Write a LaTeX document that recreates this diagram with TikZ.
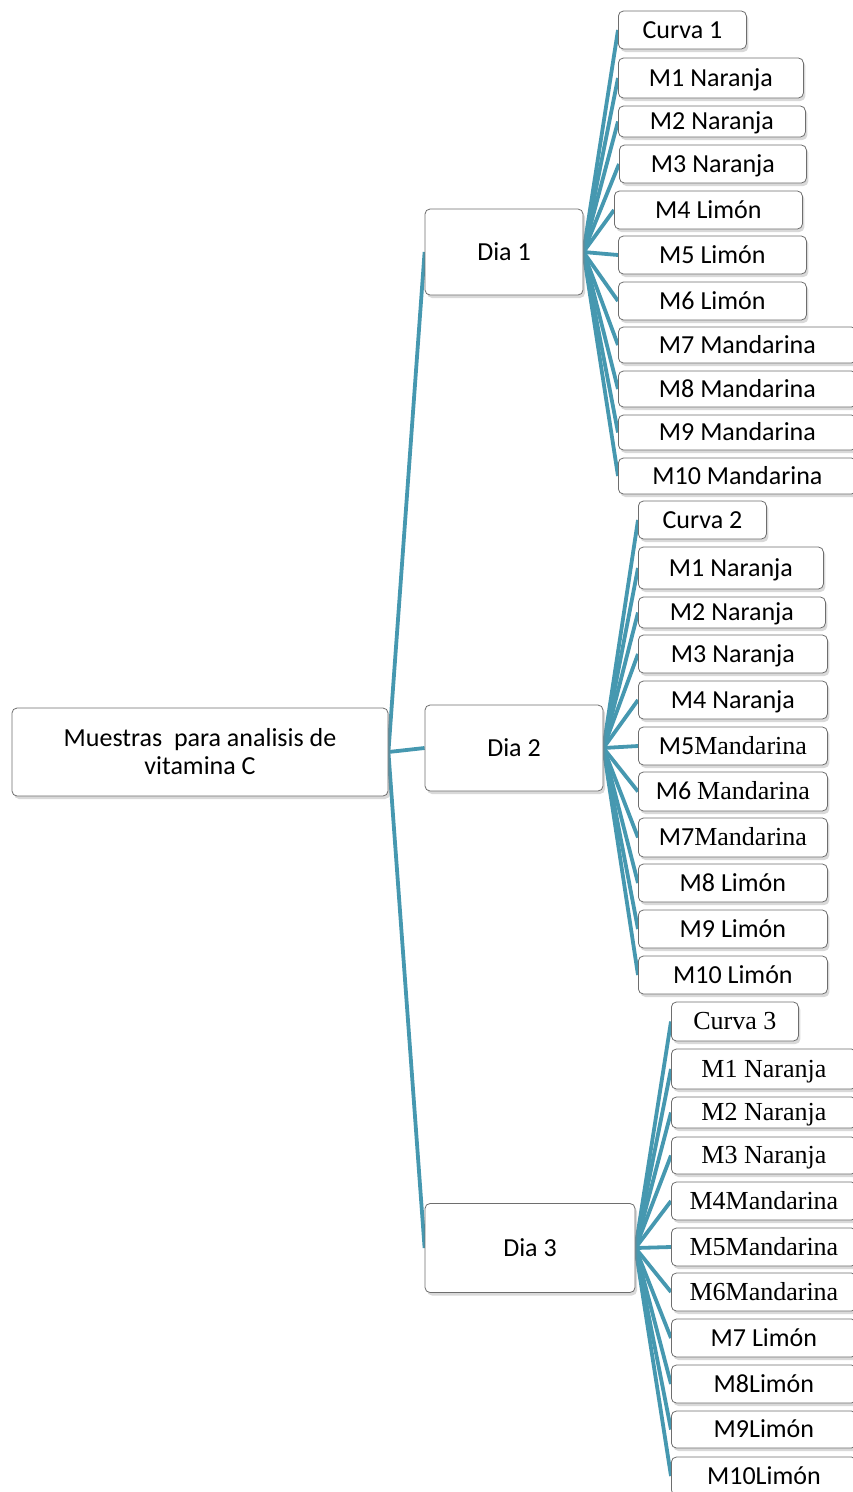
\documentclass[tikz,border=0pt]{standalone}
\usepackage{fontspec}
\setmainfont{Carlito}
\newfontfamily\tms{Liberation Serif}
\usetikzlibrary{shadows,backgrounds}
\definecolor{linkteal}{RGB}{70,152,176}
\definecolor{boxgray}{RGB}{110,110,110}
\tikzset{
  box/.style={draw=boxgray, line width=0.8pt, fill=white, rounded corners=5pt,
    drop shadow={shadow xshift=2pt, shadow yshift=-3pt, opacity=0.3},
    inner sep=0pt, align=center, font=\fontsize{26}{28}\selectfont},
  leaf/.style={box, anchor=west, text height=20pt, text depth=4pt},
  link/.style={draw=linkteal, line width=3.8pt}
}
\begin{document}
\begin{tikzpicture}[x=1pt,y=-1pt]
      \useasboundingbox (0,0) rectangle (853,1492);
      % root and days
      \node[box, minimum width=376, minimum height=88] (0) at (200,752)
        {Muestras~ para analisis de\\vitamina C};
      \node[box, minimum width=158, minimum height=86] (d1) at (504,252) {Dia 1};
      \node[box, minimum width=178, minimum height=86] (d2) at (514,748) {Dia 2};
      \node[box, minimum width=210, minimum height=89] (d3) at (530,1248) {Dia 3};
      % day 1
      \node[leaf, minimum width=128, minimum height=38] (d1c) at (618,30) {Curva 1};
      \node[leaf, minimum width=185, minimum height=40] (d1m1) at (618,78) {M1 Naranja};
      \node[leaf, minimum width=187, minimum height=31] (d1m2) at (618,121.5) {M2 Naranja};
      \node[leaf, minimum width=187, minimum height=38] (d1m3) at (619,164) {M3 Naranja};
      \node[leaf, minimum width=188, minimum height=38] (d1m4) at (614,210) {M4 Limón};
      \node[leaf, minimum width=188, minimum height=38] (d1m5) at (618,255) {M5 Limón};
      \node[leaf, minimum width=188, minimum height=38] (d1m6) at (618,301) {M6 Limón};
      \node[leaf, minimum width=238, minimum height=36] (d1m7) at (618,345) {M7 Mandarina};
      \node[leaf, minimum width=238, minimum height=36] (d1m8) at (618,389) {M8 Mandarina};
      \node[leaf, minimum width=238, minimum height=35] (d1m9) at (618,432.5) {M9 Mandarina};
      \node[leaf, minimum width=238, minimum height=36] (d1m10) at (618,476) {M10 Mandarina};
      % day 2
      \node[leaf, minimum width=128, minimum height=38] (d2c) at (638,520) {Curva 2};
      \node[leaf, minimum width=185, minimum height=42] (d2m1) at (638,568) {M1 Naranja};
      \node[leaf, minimum width=187, minimum height=31] (d2m2) at (638,612.5) {M2 Naranja};
      \node[leaf, minimum width=189, minimum height=38] (d2m3) at (638,654) {M3 Naranja};
      \node[leaf, minimum width=189, minimum height=38] (d2m4) at (638,700) {M4 Naranja};
      \node[leaf, minimum width=189, minimum height=38] (d2m5) at (638,746) {M5{\tms Mandarina}};
      \node[leaf, minimum width=189, minimum height=39] (d2m6) at (638,791.5) {M6 {\tms Mandarina}};
      \node[leaf, minimum width=189, minimum height=39] (d2m7) at (638,837.5) {M7{\tms Mandarina}};
      \node[leaf, minimum width=189, minimum height=38] (d2m8) at (638,883) {M8 Limón};
      \node[leaf, minimum width=189, minimum height=38] (d2m9) at (638,929) {M9 Limón};
      \node[leaf, minimum width=189, minimum height=38] (d2m10) at (638,975) {M10 Limón};
      % day 3
      \node[leaf, minimum width=127, minimum height=39, font=\fontsize{26}{28}\tms] (d3c) at (671,1021.5) {Curva 3};
      \node[leaf, minimum width=185, minimum height=40, font=\fontsize{26}{28}\tms] (d3m1) at (671,1069) {M1 Naranja};
      \node[leaf, minimum width=185, minimum height=31, font=\fontsize{26}{28}\tms] (d3m2) at (671,1112.5) {M2 Naranja};
      \node[leaf, minimum width=185, minimum height=37, font=\fontsize{26}{28}\tms] (d3m3) at (671,1155.5) {M3 Naranja};
      \node[leaf, minimum width=185, minimum height=38, font=\fontsize{26}{28}\tms] (d3m4) at (671,1201) {M4Mandarina};
      \node[leaf, minimum width=185, minimum height=38, font=\fontsize{26}{28}\tms] (d3m5) at (671,1247) {M5Mandarina};
      \node[leaf, minimum width=185, minimum height=38, font=\fontsize{26}{28}\tms] (d3m6) at (671,1292) {M6Mandarina};
      \node[leaf, minimum width=185, minimum height=38] (d3m7) at (671,1338) {M7 Limón};
      \node[leaf, minimum width=185, minimum height=38] (d3m8) at (671,1384) {M8Limón};
      \node[leaf, minimum width=185, minimum height=37] (d3m9) at (671,1429.5) {M9Limón};
      \node[leaf, minimum width=185, minimum height=38] (d3m10) at (671,1476) {M10Limón};
      \begin{pgfonlayer}{background}
      \begin{scope}[every path/.style=link]
        \draw (0.east) to (d1.west);
        \draw (0.east) to (d2.west);
        \draw (0.east) to (d3.west);
        \draw (d1.east) to (d1c.west);
        \draw (d1.east) to (d1m1.west);
        \draw (d1.east) to (d1m2.west);
        \draw (d1.east) to (d1m3.west);
        \draw (d1.east) to (d1m4.west);
        \draw (d1.east) to (d1m5.west);
        \draw (d1.east) to (d1m6.west);
        \draw (d1.east) to (d1m7.west);
        \draw (d1.east) to (d1m8.west);
        \draw (d1.east) to (d1m9.west);
        \draw (d1.east) to (d1m10.west);
        \draw (d2.east) to (d2c.west);
        \draw (d2.east) to (d2m1.west);
        \draw (d2.east) to (d2m2.west);
        \draw (d2.east) to (d2m3.west);
        \draw (d2.east) to (d2m4.west);
        \draw (d2.east) to (d2m5.west);
        \draw (d2.east) to (d2m6.west);
        \draw (d2.east) to (d2m7.west);
        \draw (d2.east) to (d2m8.west);
        \draw (d2.east) to (d2m9.west);
        \draw (d2.east) to (d2m10.west);
        \draw (d3.east) to (d3c.west);
        \draw (d3.east) to (d3m1.west);
        \draw (d3.east) to (d3m2.west);
        \draw (d3.east) to (d3m3.west);
        \draw (d3.east) to (d3m4.west);
        \draw (d3.east) to (d3m5.west);
        \draw (d3.east) to (d3m6.west);
        \draw (d3.east) to (d3m7.west);
        \draw (d3.east) to (d3m8.west);
        \draw (d3.east) to (d3m9.west);
        \draw (d3.east) to (d3m10.west);
      \end{scope}
      \end{pgfonlayer}
    \end{tikzpicture}
\end{document}
